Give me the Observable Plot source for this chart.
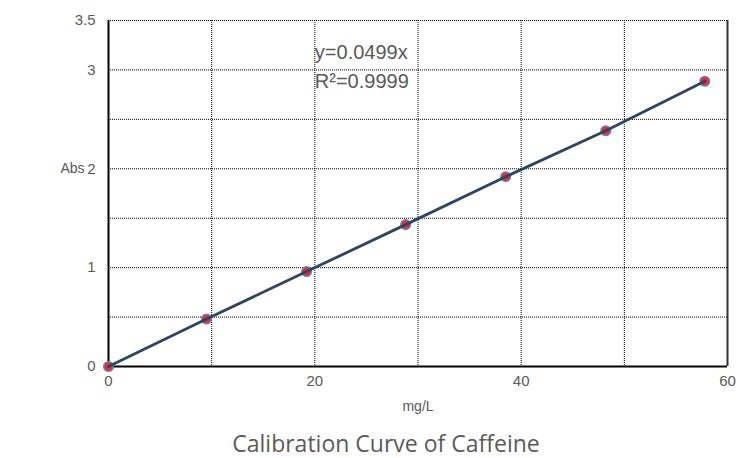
<!DOCTYPE html>
<html>
<head>
<meta charset="utf-8">
<script src="https://cdn.jsdelivr.net/npm/d3@7"></script>
<script src="https://cdn.jsdelivr.net/npm/@observablehq/plot@0.6"></script>
<style>
  body { margin: 0; background: #fff; }
  #caption { font-family: "Open Sans", Lato, sans-serif; font-size: 23px; line-height: 26px; color: #5a5a5a; text-align: center; margin-top: 10px; width: 752px; padding-left: 20px; box-sizing: border-box; }
</style>
</head>
<body>
<div id="chart"></div>
<div id="caption">Calibration Curve of Caffeine</div>
<script>
const conc = [0, 9.5, 19.2, 28.8, 38.5, 48.2, 57.8];
const absorbance = [0, 0.48, 0.96, 1.435, 1.92, 2.385, 2.885];
const xTickLabels = [0, 20, 40, 60];
const yTickLabels = [0, 1, 2, 3, 3.5];
const xGrid = [10, 20, 30, 40, 50];
const yGrid = [0.5, 1, 1.5, 2, 2.5, 3, 3.5];
const eqLines = ["y=0.0499x", "R\u00b2=0.9999"];
const eqX = [20, 20];
const eqY = [3.11, 2.82];

const data = conc.map((c, i) => ({ conc: c, abs: absorbance[i] }));

const plot = Plot.plot({
  width: 752,
  height: 420,
  marginLeft: 108,
  marginRight: 25,
  marginTop: 20,
  marginBottom: 54,
  style: { fontFamily: "'Liberation Sans', Arial, sans-serif", color: "#595959", background: "#fff" },
  x: { domain: [0, 60], label: null, axis: null },
  y: { domain: [0, 3.5], label: null, axis: null },
  marks: [
    Plot.gridX({ ticks: xGrid, stroke: "#000", strokeOpacity: 1, strokeDasharray: "1,1" }),
    Plot.gridY({ ticks: yGrid, stroke: "#000", strokeOpacity: 1, strokeDasharray: "1,1" }),
    Plot.text(xTickLabels, { x: d => d, text: d => String(d), frameAnchor: "bottom", dy: 19, fontSize: 15, fill: "#595959" }),
    Plot.text(yTickLabels, { y: d => d, text: d => String(d), frameAnchor: "left", dx: -13, textAnchor: "end", fontSize: 15, fill: "#595959" }),
    Plot.ruleX([60], { stroke: "#333", strokeWidth: 2 }),
    Plot.ruleX([0], { stroke: "#000", strokeWidth: 2 }),
    Plot.ruleY([0], { stroke: "#000", strokeWidth: 2 }),
    Plot.dot(data, { x: "conc", y: "abs", r: 4.8, fill: "#ee2a2a", stroke: "#5f86c8", strokeWidth: 1.5 }),
    Plot.line(data, { x: "conc", y: "abs", stroke: "#2d4562", strokeWidth: 2.8 }),
    Plot.text(eqLines, { x: eqX, y: eqY, text: d => d, textAnchor: "start", lineAnchor: "bottom", fontSize: 20, fill: "#595959" }),
    Plot.text(["Abs"], { y: [2], frameAnchor: "left", dx: -36, textAnchor: "middle", fontSize: 14, fill: "#595959" }),
    Plot.text(["mg/L"], { x: [30], frameAnchor: "bottom", dy: 44, fontSize: 14, fill: "#595959" })
  ]
});
document.getElementById("chart").appendChild(plot);
</script>
</body>
</html>
